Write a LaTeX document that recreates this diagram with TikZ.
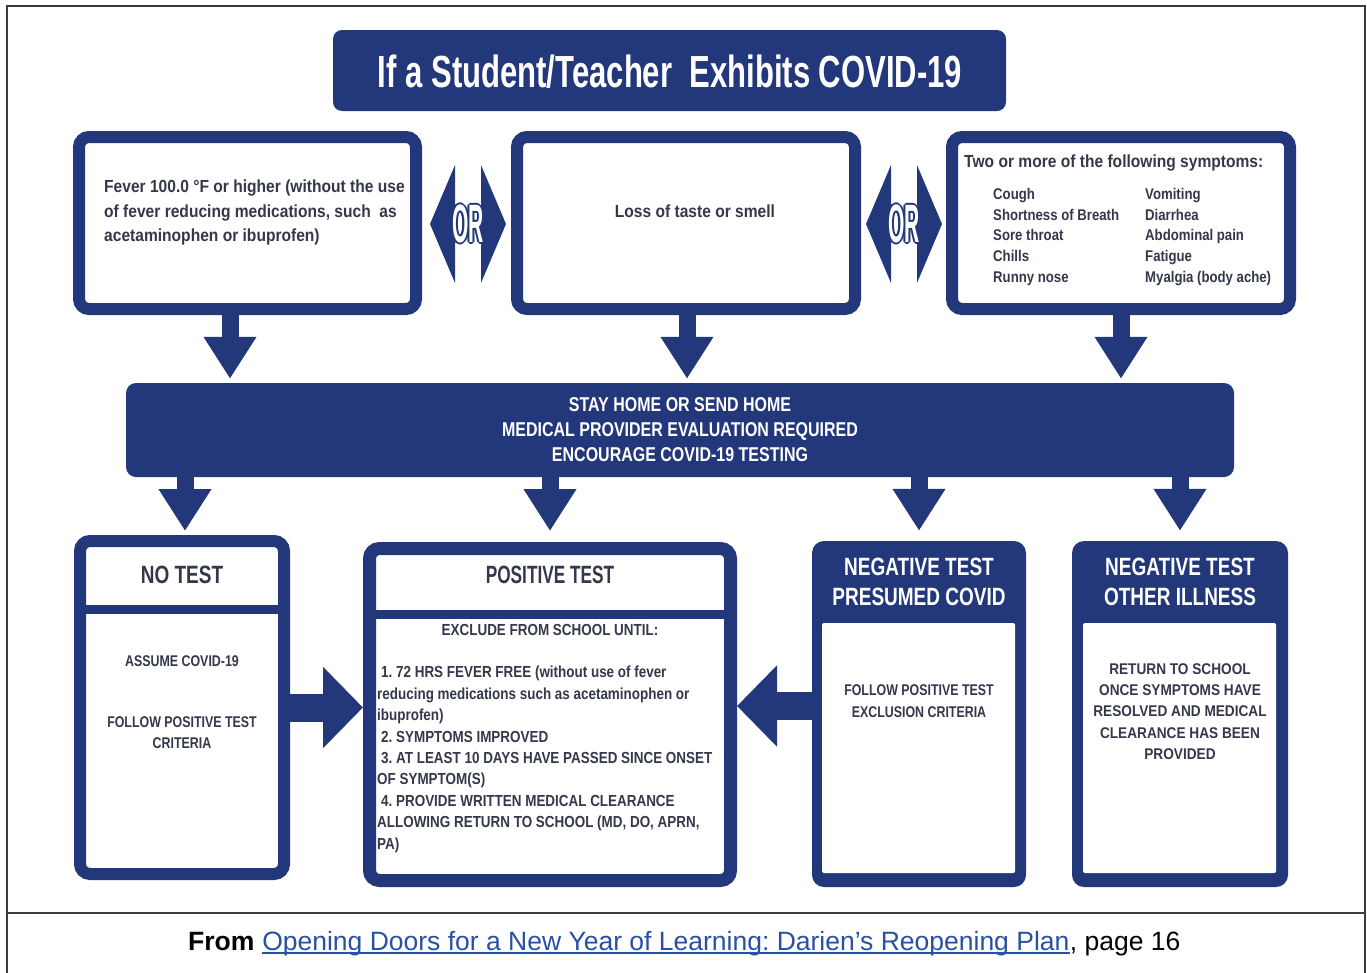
\documentclass[tikz,border=0pt]{standalone}
\usepackage{fontspec}
\setmainfont{Liberation Sans}
% condensed cuts of the same family
\newfontfamily\fTitle[FakeStretch=0.69]{Liberation Sans}
\newfontfamily\fBar[FakeStretch=0.80]{Liberation Sans}
\newfontfamily\fHead[FakeStretch=0.76]{Liberation Sans}
\newfontfamily\fPosHead[FakeStretch=0.69]{Liberation Sans}
\newfontfamily\fTop[FakeStretch=0.89]{Liberation Sans}
\newfontfamily\fSym[FakeStretch=0.85]{Liberation Sans}
\newfontfamily\fList[FakeStretch=0.84]{Liberation Sans}
\newfontfamily\fBody[FakeStretch=0.80]{Liberation Sans}
\newfontfamily\fWide[FakeStretch=0.88]{Liberation Sans}
\newfontfamily\fOr[FakeStretch=0.39]{Liberation Sans}
\usetikzlibrary{arrows.meta,calc}
\definecolor{navy}{RGB}{34,56,122}
\definecolor{ink}{RGB}{52,56,74}
\definecolor{linkblue}{RGB}{40,80,165}
\definecolor{rulegray}{RGB}{60,60,60}
\newcommand\fsz[2]{\fontsize{#1}{#2}\selectfont}
\newcommand\ormark{\fOr\bfseries\fsz{54}{54}OR}
\frenchspacing

\begin{document}
\begin{tikzpicture}[x=1pt,y=-1pt,
  framebox/.style={draw=navy, line width=12pt, rounded corners=10pt, fill=white, inner sep=0pt},
  solidbox/.style={fill=navy, rounded corners=12pt, inner sep=0pt},
  innerwhite/.style={fill=white, rounded corners=2pt, inner sep=0pt},
  txt/.style={text=ink, inner sep=0pt},
  downarr/.style={draw=navy, line width=17pt, -{Triangle[length=42pt 0 0, width=50pt 0 0]}},
  sidearr/.style={draw=navy, line width=28pt, -{Triangle[length=40pt 0 0, width=79pt 0 0]}},
  sepband/.style={draw=navy, line width=9pt},
  rulestyle/.style={draw=rulegray, line width=2pt},
  captxt/.style={anchor=base west, inner sep=0pt, font=\fsz{26.5}{30}},
]
\useasboundingbox (0,0) rectangle (1367,972);

% page frame and caption row
\draw[rulestyle] (6.5,985) -- (6.5,5.5) -- (1364.5,5.5) -- (1364.5,985);
\draw[rulestyle] (6.5,912.5) -- (1364.5,912.5);

% title banner
\node[solidbox, rounded corners=9pt, minimum width=673pt, minimum height=81pt] (title) at (669.5,70.5) {};
\node[text=white, inner sep=0pt, font=\fTitle\bfseries\fsz{45}{50}] (titletext) at (670,72) {If a Student/Teacher\ \ Exhibits COVID-19};

% three symptom boxes
\node[framebox, minimum width=337pt, minimum height=172pt] (fever) at (247.5,223) {};
\node[framebox, minimum width=338pt, minimum height=172pt] (loss) at (686,223) {};
\node[framebox, minimum width=338pt, minimum height=172pt] (multi) at (1121,223) {};

\node[txt, anchor=north west, align=left, font=\fTop\bfseries\fsz{17.5}{24.5}] (fevertext) at (104,180)
  {Fever 100.0 °F or higher (without the use\\of fever reducing medications, such\ \ as\\acetaminophen or ibuprofen)};
\node[txt, font=\fTop\bfseries\fsz{17.5}{24.5}] (losstext) at (695,211) {Loss of taste or smell};
\node[txt, anchor=north west, font=\fTop\bfseries\fsz{17.5}{24.5}] (multitext) at (964,155) {Two or more of the following symptoms:};
\node[txt, anchor=north west, align=left, font=\fSym\bfseries\fsz{15.5}{20.75}] (symleft) at (993,188)
  {Cough\\Shortness of Breath\\Sore throat\\Chills\\Runny nose};
\node[txt, anchor=north west, align=left, font=\fSym\bfseries\fsz{15.5}{20.75}] (symright) at (1145,188)
  {Vomiting\\Diarrhea\\Abdominal pain\\Fatigue\\Myalgia (body ache)};

% OR markers between the symptom boxes
\coordinate (or1) at (468,224);
\coordinate (or2) at (904,224);
\foreach \c in {or1,or2}{
  \fill[navy] ($(\c)+(-38,0)$) -- ($(\c)+(-13,-59)$) -- ($(\c)+(-13,59)$) -- cycle;
  \fill[navy] ($(\c)+(38,0)$) -- ($(\c)+(13,-59)$) -- ($(\c)+(13,59)$) -- cycle;
  \foreach \dx/\dy in {1.8/0,-1.8/0,0/1.8,0/-1.8,1.3/1.3,-1.3/1.3,1.3/-1.3,-1.3/-1.3}
    \node[text=navy, inner sep=0pt] at ([xshift=\dx pt, yshift=\dy pt]\c) {\ormark};
  \node[text=white, inner sep=0pt] at (\c) {\ormark};
}

% central action bar
\node[solidbox, rounded corners=10pt, minimum width=1108pt, minimum height=94pt] (bar) at (680,430) {};
\node[text=white, inner sep=0pt, align=center, font=\fBar\bfseries\fsz{20}{25}] (bartext) at (680,430)
  {STAY HOME OR SEND HOME\\MEDICAL PROVIDER EVALUATION REQUIRED\\ENCOURAGE COVID-19 TESTING};

% outcome boxes
\node[framebox, minimum width=204pt, minimum height=333pt] (notest) at (182,707.5) {};
\draw[sepband] (notest.west |- 0,609) -- (notest.east |- 0,609);
\node[txt, font=\fHead\bfseries\fsz{25}{30}] (notesthead) at (182,575) {NO TEST};
\node[txt, font=\fBody\bfseries\fsz{15.5}{21}] (assume) at (182,661) {ASSUME COVID-19};
\node[txt, align=center, font=\fBody\bfseries\fsz{15.5}{21}] (follow) at (182,733) {FOLLOW POSITIVE TEST\\CRITERIA};

\node[framebox, line width=13pt, minimum width=361pt, minimum height=332pt] (pos) at (550,714.5) {};
\draw[sepband] (pos.west |- 0,614) -- (pos.east |- 0,614);
\node[txt, font=\fPosHead\bfseries\fsz{25}{30}] (poshead) at (550,575) {POSITIVE TEST};
\node[txt, font=\fList\bfseries\fsz{16}{21.4}] (exclude) at (550,630) {EXCLUDE FROM SCHOOL UNTIL:};
\node[txt, anchor=north west, align=left, font=\fList\bfseries\fsz{16}{21.4}] (criteria) at (377,666)
  {\hspace*{4pt}1. 72 HRS FEVER FREE (without use of fever\\
   reducing medications such as acetaminophen or\\
   ibuprofen)\\
   \hspace*{4pt}2. SYMPTOMS IMPROVED\\
   \hspace*{4pt}3. AT LEAST 10 DAYS HAVE PASSED SINCE ONSET\\
   OF SYMPTOM(S)\\
   \hspace*{4pt}4. PROVIDE WRITTEN MEDICAL CLEARANCE\\
   ALLOWING RETURN TO SCHOOL (MD, DO, APRN,\\
   PA)};

\node[solidbox, minimum width=214pt, minimum height=346pt] (negcovid) at (919,714) {};
\node[innerwhite, minimum width=193pt, minimum height=250pt] (negcovidbody) at (918.5,748) {};
\node[text=white, inner sep=0pt, align=center, font=\fHead\bfseries\fsz{25}{30}] (negcovidhead) at (919,582)
  {NEGATIVE TEST\\PRESUMED COVID};
\node[txt, align=center, font=\fBody\bfseries\fsz{15.5}{21.5}] (negcovidtext) at (919,701)
  {FOLLOW POSITIVE TEST\\EXCLUSION CRITERIA};

\node[solidbox, minimum width=216pt, minimum height=346pt] (negother) at (1180,714) {};
\node[innerwhite, minimum width=193pt, minimum height=250pt] (negotherbody) at (1179.5,748) {};
\node[text=white, inner sep=0pt, align=center, font=\fHead\bfseries\fsz{25}{30}] (negotherhead) at (1180,582)
  {NEGATIVE TEST\\OTHER ILLNESS};
\node[txt, align=center, font=\fWide\bfseries\fsz{15.5}{21.25}] (negothertext) at (1180,711.5)
  {RETURN TO SCHOOL\\ONCE SYMPTOMS HAVE\\RESOLVED AND MEDICAL\\CLEARANCE HAS BEEN\\PROVIDED};

% block arrows
\draw[downarr, shorten >=4pt] ([xshift=-17.5pt]fever.south) -- ([xshift=-17.5pt]fever.south |- bar.north);
\draw[downarr, shorten >=4pt] ([xshift=1pt]loss.south) -- ([xshift=1pt]loss.south |- bar.north);
\draw[downarr, shorten >=4pt] (multi.south) -- (multi.south |- bar.north);

\draw[downarr, shorten >=4pt] ([xshift=3pt]notest.north |- bar.south) -- ([xshift=3pt]notest.north);
\draw[downarr, shorten >=11pt] (pos.north |- bar.south) -- (pos.north);
\draw[downarr, shorten >=10pt] (negcovid.north |- bar.south) -- (negcovid.north);
\draw[downarr, shorten >=10pt] (negother.north |- bar.south) -- (negother.north);

\draw[sidearr] (notest.east) -- (notest.east -| pos.west);
\draw[sidearr] ([yshift=8pt]negcovid.west) -- ([yshift=8pt]negcovid.west -| pos.east);

% source line
\node[captxt, font=\bfseries\fsz{26.5}{30}] (from) at (188,950) {From};
\node[captxt, text=linkblue] (link) at ([xshift=7.4pt]from.base east)
  {Opening Doors for a New Year of Learning: Darien’s Reopening Plan};
\draw[linkblue, line width=1.6pt] ([yshift=-3pt]link.base west) -- ([yshift=-3pt]link.base east);
\node[captxt] (page) at (link.base east) {, page 16};
\end{tikzpicture}
\end{document}
